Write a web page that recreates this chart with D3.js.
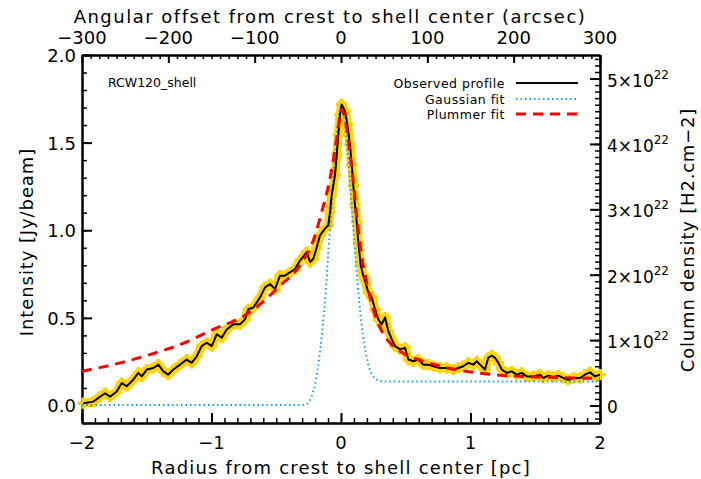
<!DOCTYPE html>
<html>
<head>
<meta charset="utf-8">
<script src="https://cdn.jsdelivr.net/npm/d3@7"></script>
<style>
  body { margin: 0; background: #fff; }
  svg text { font-family: "DejaVu Sans", sans-serif; fill: #000; }
</style>
</head>
<body>
<svg id="chart" width="701" height="479"></svg>
<script>
// observed radial profile (pc, Jy/beam)
var obsR = [-1.99,-1.913,-1.861,-1.822,-1.784,-1.732,-1.693,-1.655,-1.604,-1.565,-1.539,-1.5,-1.449,-1.411,-1.372,-1.334,-1.295,-1.243,-1.192,-1.153,-1.114,-1.076,-1.037,-0.998,-0.96,-0.921,-0.883,-0.832,-0.78,-0.741,-0.716,-0.677,-0.625,-0.587,-0.548,-0.51,-0.471,-0.432,-0.394,-0.355,-0.317,-0.265,-0.239,-0.214,-0.188,-0.162,-0.124,-0.098,-0.085,-0.072,-0.046,-0.033,-0.021,-0.008,0.005,0.031,0.049,0.069,0.083,0.095,0.108,0.121,0.134,0.152,0.172,0.185,0.211,0.237,0.263,0.288,0.314,0.34,0.365,0.392,0.417,0.456,0.494,0.52,0.558,0.597,0.636,0.674,0.713,0.764,0.816,0.867,0.906,0.944,0.983,1.022,1.048,1.073,1.112,1.137,1.164,1.189,1.215,1.241,1.28,1.318,1.357,1.395,1.434,1.485,1.537,1.562,1.601,1.639,1.678,1.717,1.755,1.794,1.846,1.884,1.923,1.961,2.0];
var obsI = [0.013,0.022,0.05,0.07,0.05,0.08,0.128,0.11,0.147,0.186,0.166,0.205,0.214,0.233,0.195,0.176,0.205,0.233,0.262,0.243,0.281,0.339,0.358,0.339,0.406,0.387,0.434,0.463,0.463,0.492,0.549,0.559,0.617,0.674,0.693,0.664,0.741,0.741,0.76,0.779,0.827,0.875,0.818,0.837,0.9,0.971,1.009,1.028,1.105,1.2,1.316,1.43,1.545,1.66,1.718,1.68,1.603,1.488,1.373,1.258,1.143,1.048,0.93,0.8,0.74,0.712,0.645,0.617,0.549,0.492,0.463,0.502,0.425,0.377,0.339,0.32,0.329,0.262,0.252,0.262,0.233,0.233,0.224,0.214,0.214,0.205,0.214,0.224,0.243,0.233,0.252,0.233,0.205,0.272,0.285,0.272,0.243,0.205,0.186,0.195,0.176,0.186,0.166,0.166,0.176,0.157,0.17,0.163,0.17,0.157,0.147,0.157,0.157,0.176,0.189,0.166,0.176];

// gaussian fit
var gaussR = [-2.0,-0.3,-0.26,-0.24,-0.22,-0.2,-0.18,-0.16,-0.14,-0.12,-0.1,-0.08,-0.06,-0.04,-0.02,0,0.02,0.04,0.06,0.08,0.1,0.12,0.14,0.16,0.18,0.2,0.22,0.24,0.26,0.28,0.3,0.35,2.0];
var gaussI = [0.003,0.003,0.01,0.03,0.07,0.12,0.21,0.32,0.46,0.63,0.85,1.06,1.28,1.48,1.63,1.7,1.66,1.54,1.37,1.17,0.96,0.77,0.6,0.46,0.35,0.27,0.21,0.175,0.155,0.145,0.14,0.137,0.137];

// plummer fit
var plumR = [-2.0,-1.76,-1.5,-1.24,-0.985,-0.728,-0.471,-0.317,-0.2,-0.149,-0.098,-0.059,-0.021,0.005,0.044,0.07,0.1,0.126,0.147,0.16,0.198,0.249,0.301,0.378,0.456,0.636,0.764,1.02,1.28,1.54,1.79,2.0];
var plumI = [0.195,0.233,0.285,0.348,0.434,0.52,0.683,0.8,0.971,1.105,1.25,1.4,1.59,1.69,1.58,1.43,1.239,1.048,0.92,0.85,0.703,0.549,0.444,0.358,0.31,0.252,0.224,0.189,0.17,0.163,0.157,0.155];

var xTicks = [-2, -1, 0, 1, 2];
var topTicks = [-300, -200, -100, 0, 100, 200, 300];
var yTicks = [0, 0.5, 1.0, 1.5, 2.0];
var colTicks = [0, 1, 2, 3, 4, 5];
var legendLabels = ["Observed profile", "Gaussian fit", "Plummer fit"];

var pLeft = 82, pRight = 600, pTop = 55, pBottom = 423;
var colPerJy = 2.68; // 1e22 cm-2 per Jy/beam

var svg = d3.select("#chart");

var x = d3.scaleLinear().domain([-2, 2]).range([pLeft, pRight]);
var xTop = d3.scaleLinear().domain([-300, 300]).range([pLeft, pRight]);
var y = d3.scaleLinear().domain([-0.1, 2.0]).range([pBottom, pTop]);
var yCol = d3.scaleLinear().domain([-0.1 * colPerJy, 2.0 * colPerJy]).range([pBottom, pTop]);

function styleAxis(g, w) {
    g.select(".domain").attr("stroke", "#000").attr("stroke-width", 2);
    g.selectAll(".tick line").attr("stroke", "#000").attr("stroke-width", w);
    g.selectAll(".tick text").remove();
}

// minor ticks
svg.append("g").attr("transform", "translate(0," + pBottom + ")")
    .call(d3.axisBottom(x).tickValues(d3.range(-20, 21).map(function(d){ return d / 10; })).tickSize(-5).tickSizeOuter(0))
    .call(styleAxis, 1.5);
svg.append("g").attr("transform", "translate(0," + pTop + ")")
    .call(d3.axisTop(xTop).tickValues(d3.range(-30, 31).map(function(d){ return d * 10; })).tickSize(-4).tickSizeOuter(0))
    .call(styleAxis, 1.5);
svg.append("g").attr("transform", "translate(" + pLeft + ",0)")
    .call(d3.axisLeft(y).tickValues(d3.range(-1, 21).map(function(d){ return d / 10; })).tickSize(-5).tickSizeOuter(0))
    .call(styleAxis, 1.5);
svg.append("g").attr("transform", "translate(" + pRight + ",0)")
    .call(d3.axisRight(yCol).tickValues(d3.range(-2, 54).map(function(d){ return d / 10; })).tickSize(-5).tickSizeOuter(0))
    .call(styleAxis, 1.5);

// major ticks
svg.append("g").attr("transform", "translate(0," + pBottom + ")")
    .call(d3.axisBottom(x).tickValues(xTicks).tickSize(-10).tickSizeOuter(0))
    .call(styleAxis, 2);
svg.append("g").attr("transform", "translate(0," + pTop + ")")
    .call(d3.axisTop(xTop).tickValues(topTicks).tickSize(-8).tickSizeOuter(0))
    .call(styleAxis, 2);
svg.append("g").attr("transform", "translate(" + pLeft + ",0)")
    .call(d3.axisLeft(y).tickValues(yTicks).tickSize(-10).tickSizeOuter(0))
    .call(styleAxis, 2);
svg.append("g").attr("transform", "translate(" + pRight + ",0)")
    .call(d3.axisRight(yCol).tickValues(colTicks).tickSize(-10).tickSizeOuter(0))
    .call(styleAxis, 2);

// tick labels
function minus(s) { return String(s).replace("-", "\u2212"); }

svg.selectAll(".xlab").data(xTicks).enter().append("text")
    .attr("x", function(d) { return x(d); }).attr("y", 449)
    .attr("text-anchor", "middle").attr("font-size", 18)
    .text(function(d) { return minus(d); });

svg.selectAll(".toplab").data(topTicks).enter().append("text")
    .attr("x", function(d) { return xTop(d); }).attr("y", 44)
    .attr("text-anchor", "middle").attr("font-size", 18)
    .text(function(d) { return minus(d); });

svg.selectAll(".ylab").data(yTicks).enter().append("text")
    .attr("x", 76).attr("y", function(d) { return y(d) + 7; })
    .attr("text-anchor", "end").attr("font-size", 18)
    .text(function(d) { return d.toFixed(1); });

var colLab = svg.selectAll(".clab").data(colTicks).enter().append("text")
    .attr("x", 607).attr("y", function(d) { return yCol(d) + 8; })
    .attr("font-size", 17);
colLab.each(function(d) {
    var t = d3.select(this);
    if (d === 0) { t.text("0"); return; }
    t.append("tspan").text(d + "\u00d710");
    t.append("tspan").attr("dy", -8).attr("font-size", 12).text("22");
});

// axis titles
svg.append("text").attr("x", 330).attr("y", 23).attr("text-anchor", "middle")
    .attr("font-size", 18).attr("letter-spacing", 1.5)
    .text("Angular offset from crest to shell center (arcsec)");
svg.append("text").attr("x", 341).attr("y", 474).attr("text-anchor", "middle")
    .attr("font-size", 18).attr("letter-spacing", 1.2)
    .text("Radius from crest to shell center [pc]");
svg.append("text").attr("transform", "translate(33,242) rotate(-90)").attr("text-anchor", "middle")
    .attr("font-size", 18).attr("letter-spacing", 0.9).text("Intensity [Jy/beam]");
svg.append("text").attr("transform", "translate(694,240) rotate(-90)").attr("text-anchor", "middle")
    .attr("font-size", 18).attr("letter-spacing", 0.8).text("Column density [H2.cm\u22122]");

// curves
var obs = obsR.map(function(r, i) { return [r, obsI[i]]; });
var gauss = gaussR.map(function(r, i) { return [r, gaussI[i]]; });
var plum = plumR.map(function(r, i) { return [r, plumI[i]]; });

var line = d3.line().x(function(d) { return x(d[0]); }).y(function(d) { return y(d[1]); });
var smooth = d3.line().curve(d3.curveMonotoneX).x(function(d) { return x(d[0]); }).y(function(d) { return y(d[1]); });

var plot = svg.append("g");

plot.append("path").datum(obs).attr("d", line)
    .attr("fill", "none").attr("stroke", "#ffd400").attr("stroke-width", 9)
    .attr("stroke-linejoin", "round");
plot.selectAll(".err").data(obs).enter().append("path")
    .attr("transform", function(d) { return "translate(" + x(d[0]) + "," + y(d[1]) + ")"; })
    .attr("d", d3.symbol(d3.symbolCross, 70))
    .attr("fill", "#ffd400");

plot.append("path").datum(gauss).attr("d", smooth)
    .attr("fill", "none").attr("stroke", "#1a9bf0").attr("stroke-width", 2)
    .attr("stroke-dasharray", "1.5,3");

plot.append("path").datum(obs).attr("d", line)
    .attr("fill", "none").attr("stroke", "#000").attr("stroke-width", 2)
    .attr("stroke-linejoin", "round");

plot.append("path").datum(plum).attr("d", smooth)
    .attr("fill", "none").attr("stroke", "#ff0000").attr("stroke-width", 3)
    .attr("stroke-dasharray", "10,7");

// label and legend
svg.append("text").attr("x", 108).attr("y", 87).attr("font-size", 12.5).text("RCW120_shell");

var legStyles = [
    { color: "#000", width: 2, dash: null },
    { color: "#1a9bf0", width: 2, dash: "1.5,3" },
    { color: "#ff0000", width: 3, dash: "10,7" }
];
var legY = [83, 99, 114];
legendLabels.forEach(function(lbl, i) {
    svg.append("text").attr("x", 505).attr("y", legY[i] + 4.5)
        .attr("text-anchor", "end").attr("font-size", 12.5).attr("letter-spacing", 0.5).text(lbl);
    svg.append("line").attr("x1", 516).attr("x2", 578)
        .attr("y1", legY[i]).attr("y2", legY[i])
        .attr("stroke", legStyles[i].color).attr("stroke-width", legStyles[i].width)
        .attr("stroke-dasharray", legStyles[i].dash);
});
</script>
</body>
</html>
